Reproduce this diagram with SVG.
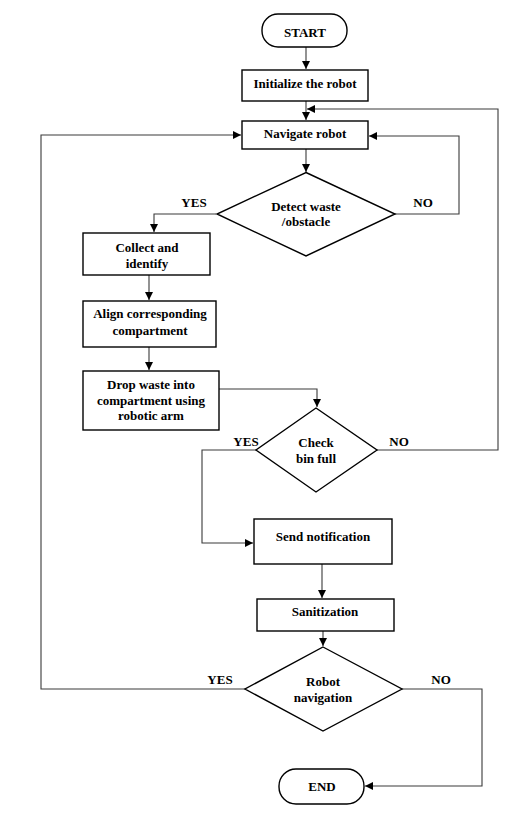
<svg xmlns="http://www.w3.org/2000/svg" width="528" height="819" viewBox="0 0 528 819">
<style>
.box{fill:#fff;stroke:#000;stroke-width:1.4}
.conn{fill:none;stroke:#3a3a3a;stroke-width:1.1}
text{font-family:"Liberation Serif","Times New Roman",serif;font-weight:bold;font-size:13px;fill:#000;text-anchor:middle}
</style>
<defs>
<marker id="arr" markerUnits="userSpaceOnUse" markerWidth="10" markerHeight="10" refX="8" refY="4" orient="auto">
<path d="M0,0 L8,4 L0,8 Z" fill="#000"/>
</marker>
</defs>
<rect width="528" height="819" fill="#fff"/>
<g id="connectors">
<path class="conn" d="M306,47 V69" marker-end="url(#arr)"/>
<path class="conn" d="M306,101 V120" marker-end="url(#arr)"/>
<path class="conn" d="M306,149 V172" marker-end="url(#arr)"/>
<path class="conn" d="M394,214 H459 V136 H369" marker-end="url(#arr)"/>
<path class="conn" d="M245,689 H41 V135 H241" marker-end="url(#arr)"/>
<path class="conn" d="M216,214 H154 V232" marker-end="url(#arr)"/>
<path class="conn" d="M149,275 V300" marker-end="url(#arr)"/>
<path class="conn" d="M149,347 V370" marker-end="url(#arr)"/>
<path class="conn" d="M219,389 H317 V407" marker-end="url(#arr)"/>
<path class="conn" d="M377,450 H498 V109 H307" marker-end="url(#arr)"/>
<path class="conn" d="M256,450 H202 V543 H253" marker-end="url(#arr)"/>
<path class="conn" d="M322,564 V598" marker-end="url(#arr)"/>
<path class="conn" d="M323,631 V646" marker-end="url(#arr)"/>
<path class="conn" d="M402,689 H482 V786 H365" marker-end="url(#arr)"/>
</g>
<g id="start"><rect class="box" x="262" y="14" width="85" height="33" rx="16"/><text x="305" y="37">START</text></g>
<g id="init"><rect class="box" x="242" y="70" width="126" height="31"/><text x="305" y="88">Initialize the robot</text></g>
<g id="navigate"><rect class="box" x="242" y="121" width="126" height="28"/><text x="305" y="138">Navigate robot</text></g>
<g id="detect"><polygon class="box" points="306,172.5 395,214 306,256 217,214"/><text x="306" y="211">Detect waste</text><text x="306" y="226">/obstacle</text></g>
<g id="lbl-detect"><text x="194" y="207">YES</text><text x="423" y="207">NO</text></g>
<g id="collect"><rect class="box" x="83" y="233" width="127" height="42"/><text x="147" y="252">Collect and</text><text x="147" y="268">identify</text></g>
<g id="align"><rect class="box" x="83" y="301" width="133" height="46"/><text x="150" y="318">Align corresponding</text><text x="150" y="334.5">compartment</text></g>
<g id="drop"><rect class="box" x="83" y="371" width="136" height="59"/><text x="151" y="388.5">Drop waste into</text><text x="151" y="405">compartment using</text><text x="151" y="420">robotic arm</text></g>
<g id="check"><polygon class="box" points="316,408 377,450 316,492 256,450"/><text x="316" y="446.5">Check</text><text x="316" y="462.5">bin full</text></g>
<g id="lbl-check"><text x="246" y="446">YES</text><text x="399" y="446">NO</text></g>
<g id="send"><rect class="box" x="254" y="519" width="138" height="45"/><text x="323" y="541">Send notification</text></g>
<g id="sanit"><rect class="box" x="257" y="599" width="137" height="32"/><text x="325" y="616">Sanitization</text></g>
<g id="robotnav"><polygon class="box" points="323,647 402,689 323,731 245,689"/><text x="323" y="686">Robot</text><text x="323" y="701.5">navigation</text></g>
<g id="lbl-robot"><text x="220" y="684">YES</text><text x="441" y="684">NO</text></g>
<g id="end"><rect class="box" x="279" y="769" width="85" height="35" rx="17"/><text x="322" y="791">END</text></g>
</svg>
